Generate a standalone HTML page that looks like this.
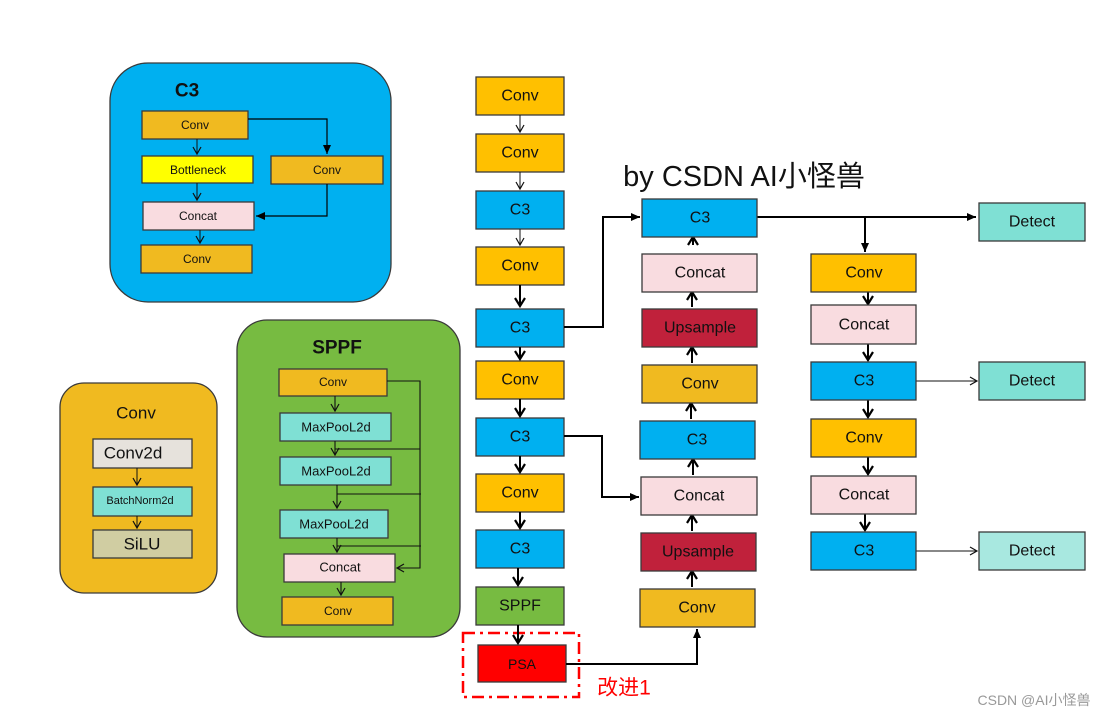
<!DOCTYPE html>
<html><head><meta charset="utf-8"><style>
body{margin:0;background:#fff}
svg{display:block}
text{font-family:"Liberation Sans","Noto Sans CJK SC",sans-serif;text-anchor:middle;dominant-baseline:central;fill:#111}
rect.b{stroke:#3a3a3a;stroke-width:1.3}
</style></head><body>
<svg width="1107" height="716" viewBox="0 0 1107 716" xmlns="http://www.w3.org/2000/svg">
<defs>
<marker id="o" markerWidth="10" markerHeight="10" refX="8" refY="5" orient="auto" markerUnits="userSpaceOnUse"><path d="M1,1 L8,5 L1,9" fill="none" stroke="#111" stroke-width="1.2"/></marker>
<marker id="f" markerWidth="10" markerHeight="10" refX="9" refY="5" orient="auto" markerUnits="userSpaceOnUse"><path d="M0,1 L9,5 L0,9 Z" fill="#000"/></marker>
<marker id="t" markerWidth="12" markerHeight="12" refX="9" refY="6" orient="auto" markerUnits="userSpaceOnUse"><path d="M1,1 L9,6 L1,11" fill="none" stroke="#000" stroke-width="2.2"/></marker>
</defs>

<!-- C3 module -->
<rect x="110" y="63" width="281" height="239" rx="38" fill="#00B0F0" stroke="#3a3a3a" stroke-width="1.3"/>
<text x="187" y="91" font-size="19" font-weight="bold">C3</text>
<rect class="b" x="142" y="111" width="106" height="28" fill="#F0BA20"/><text x="195" y="125" font-size="12">Conv</text>
<rect class="b" x="142" y="156" width="111" height="27" fill="#FFFF00"/><text x="198" y="170" font-size="12">Bottleneck</text>
<rect class="b" x="271" y="156" width="112" height="28" fill="#F0BA20"/><text x="327" y="170" font-size="12">Conv</text>
<rect class="b" x="143" y="202" width="111" height="28" fill="#F9DCE0"/><text x="198" y="216" font-size="12">Concat</text>
<rect class="b" x="141" y="245" width="111" height="28" fill="#F0BA20"/><text x="197" y="259" font-size="12">Conv</text>
<line x1="197" y1="139" x2="197" y2="154" stroke="#111" marker-end="url(#o)"/>
<line x1="197" y1="183" x2="197" y2="200" stroke="#111" marker-end="url(#o)"/>
<line x1="200" y1="230" x2="200" y2="243" stroke="#111" marker-end="url(#o)"/>
<polyline points="248,119 327,119 327,154" fill="none" stroke="#000" stroke-width="1.2" marker-end="url(#f)"/>
<polyline points="327,184 327,216 256,216" fill="none" stroke="#000" stroke-width="1.2" marker-end="url(#f)"/>

<!-- Conv module -->
<rect x="60" y="383" width="157" height="210" rx="24" fill="#F0BA20" stroke="#3a3a3a" stroke-width="1.3"/>
<text x="136" y="413" font-size="17">Conv</text>
<rect class="b" x="93" y="439" width="99" height="29" fill="#E6E2DC"/><text x="133" y="453" font-size="17">Conv2d</text>
<rect class="b" x="93" y="487" width="99" height="29" fill="#7FE0D4"/><text x="140" y="501" font-size="11">BatchNorm2d</text>
<rect class="b" x="93" y="530" width="99" height="28" fill="#D0CDA2"/><text x="142" y="544" font-size="17">SiLU</text>
<line x1="137" y1="468" x2="137" y2="485" stroke="#111" marker-end="url(#o)"/>
<line x1="137" y1="516" x2="137" y2="528" stroke="#111" marker-end="url(#o)"/>

<!-- SPPF module -->
<rect x="237" y="320" width="223" height="317" rx="30" fill="#77BB41" stroke="#3a3a3a" stroke-width="1.3"/>
<text x="337" y="348" font-size="19" font-weight="bold">SPPF</text>
<rect class="b" x="279" y="369" width="108" height="27" fill="#F0BA20"/><text x="333" y="382" font-size="12">Conv</text>
<rect class="b" x="280" y="413" width="111" height="28" fill="#7FE0D4"/><text x="336" y="427" font-size="13">MaxPooL2d</text>
<rect class="b" x="280" y="457" width="111" height="28" fill="#7FE0D4"/><text x="336" y="471" font-size="13">MaxPooL2d</text>
<rect class="b" x="280" y="510" width="108" height="28" fill="#7FE0D4"/><text x="334" y="524" font-size="13">MaxPooL2d</text>
<rect class="b" x="284" y="554" width="111" height="28" fill="#F9DCE0"/><text x="340" y="567" font-size="13">Concat</text>
<rect class="b" x="282" y="597" width="111" height="28" fill="#F0BA20"/><text x="338" y="611" font-size="12">Conv</text>
<g stroke="#111" stroke-width="1.1" fill="none">
<line x1="335" y1="396" x2="335" y2="411" marker-end="url(#o)"/>
<line x1="335" y1="441" x2="335" y2="455" marker-end="url(#o)"/>
<line x1="337" y1="485" x2="337" y2="508" marker-end="url(#o)"/>
<line x1="337" y1="538" x2="337" y2="552" marker-end="url(#o)"/>
<line x1="341" y1="582" x2="341" y2="595" marker-end="url(#o)"/>
<polyline points="387,381 420,381 420,568 397,568" marker-end="url(#o)"/>
<line x1="335" y1="449" x2="420" y2="449"/>
<line x1="337" y1="494" x2="421" y2="494"/>
<line x1="337" y1="546" x2="421" y2="546"/>
</g>

<!-- main column -->
<rect class="b" x="476" y="77" width="88" height="38" fill="#FFC000"/><text x="520" y="96" font-size="16">Conv</text>
<rect class="b" x="476" y="134" width="88" height="38" fill="#FFC000"/><text x="520" y="153" font-size="16">Conv</text>
<rect class="b" x="476" y="191" width="88" height="38" fill="#00B0F0"/><text x="520" y="210" font-size="16">C3</text>
<rect class="b" x="476" y="247" width="88" height="38" fill="#FFC000"/><text x="520" y="266" font-size="16">Conv</text>
<rect class="b" x="476" y="309" width="88" height="38" fill="#00B0F0"/><text x="520" y="328" font-size="16">C3</text>
<rect class="b" x="476" y="361" width="88" height="38" fill="#FFC000"/><text x="520" y="380" font-size="16">Conv</text>
<rect class="b" x="476" y="418" width="88" height="38" fill="#00B0F0"/><text x="520" y="437" font-size="16">C3</text>
<rect class="b" x="476" y="474" width="88" height="38" fill="#FFC000"/><text x="520" y="493" font-size="16">Conv</text>
<rect class="b" x="476" y="530" width="88" height="38" fill="#00B0F0"/><text x="520" y="549" font-size="16">C3</text>
<rect class="b" x="476" y="587" width="88" height="38" fill="#77BB41"/><text x="520" y="606" font-size="16">SPPF</text>
<rect class="b" x="478" y="645" width="88" height="37" fill="#FF0000"/><text x="522" y="664" font-size="14">PSA</text>
<rect x="463" y="633" width="116" height="64" fill="none" stroke="#FF0000" stroke-width="2.5" stroke-dasharray="12,5,3,5"/>
<text x="624" y="688" font-size="21" style="fill:#FF0000">改进1</text>
<g stroke="#111" fill="none">
<line x1="520" y1="115" x2="520" y2="132" marker-end="url(#o)"/>
<line x1="520" y1="172" x2="520" y2="189" marker-end="url(#o)"/>
<line x1="520" y1="229" x2="520" y2="245" marker-end="url(#o)"/>
</g>
<g stroke="#000" stroke-width="2" fill="none">
<line x1="520" y1="285" x2="520" y2="306" marker-end="url(#t)"/>
<line x1="520" y1="347" x2="520" y2="359" marker-end="url(#t)"/>
<line x1="520" y1="399" x2="520" y2="416" marker-end="url(#t)"/>
<line x1="520" y1="456" x2="520" y2="472" marker-end="url(#t)"/>
<line x1="520" y1="512" x2="520" y2="528" marker-end="url(#t)"/>
<line x1="518" y1="568" x2="518" y2="585" marker-end="url(#t)"/>
<line x1="518" y1="625" x2="518" y2="643" marker-end="url(#t)"/>
<line x1="693" y1="245" x2="693" y2="237" marker-end="url(#t)"/>
<line x1="692" y1="307" x2="692" y2="292" marker-end="url(#t)"/>
<line x1="692" y1="363" x2="692" y2="347" marker-end="url(#t)"/>
<line x1="691" y1="419" x2="691" y2="403" marker-end="url(#t)"/>
<line x1="693" y1="475" x2="693" y2="459" marker-end="url(#t)"/>
<line x1="692" y1="531" x2="692" y2="515" marker-end="url(#t)"/>
<line x1="692" y1="587" x2="692" y2="571" marker-end="url(#t)"/>
<line x1="868" y1="292" x2="868" y2="304" marker-end="url(#t)"/>
<line x1="868" y1="344" x2="868" y2="360" marker-end="url(#t)"/>
<line x1="868" y1="400" x2="868" y2="417" marker-end="url(#t)"/>
<line x1="868" y1="457" x2="868" y2="474" marker-end="url(#t)"/>
<line x1="865" y1="514" x2="865" y2="530" marker-end="url(#t)"/>
</g>
<g stroke="#000" stroke-width="2" fill="none">
<polyline points="564,327 603,327 603,217 640,217" marker-end="url(#f)"/>
<polyline points="564,436 602,436 602,497 639,497" marker-end="url(#f)"/>
<polyline points="566,664 697,664 697,629" marker-end="url(#f)"/>
<polyline points="757,217 976,217" marker-end="url(#f)"/>
<polyline points="865,217 865,252" marker-end="url(#f)"/>
</g>
<g stroke="#111" stroke-width="1.1" fill="none">
<line x1="916" y1="381" x2="977" y2="381" marker-end="url(#o)"/>
<line x1="916" y1="551" x2="977" y2="551" marker-end="url(#o)"/>
</g>

<!-- middle column -->
<text x="744" y="177" font-size="29" style="text-anchor:middle">by CSDN AI小怪兽</text>
<rect class="b" x="642" y="199" width="115" height="38" fill="#00B0F0"/><text x="700" y="218" font-size="16">C3</text>
<rect class="b" x="642" y="254" width="115" height="38" fill="#F9DCE0"/><text x="700" y="273" font-size="16">Concat</text>
<rect class="b" x="642" y="309" width="115" height="38" fill="#C0213B"/><text x="700" y="328" font-size="16">Upsample</text>
<rect class="b" x="642" y="365" width="115" height="38" fill="#F0BA20"/><text x="700" y="384" font-size="16">Conv</text>
<rect class="b" x="640" y="421" width="115" height="38" fill="#00B0F0"/><text x="697" y="440" font-size="16">C3</text>
<rect class="b" x="641" y="477" width="116" height="38" fill="#F9DCE0"/><text x="699" y="496" font-size="16">Concat</text>
<rect class="b" x="641" y="533" width="115" height="38" fill="#C0213B"/><text x="698" y="552" font-size="16">Upsample</text>
<rect class="b" x="640" y="589" width="115" height="38" fill="#F0BA20"/><text x="697" y="608" font-size="16">Conv</text>

<!-- right column -->
<rect class="b" x="811" y="254" width="105" height="38" fill="#FFC000"/><text x="864" y="273" font-size="16">Conv</text>
<rect class="b" x="811" y="305" width="105" height="39" fill="#F9DCE0"/><text x="864" y="325" font-size="16">Concat</text>
<rect class="b" x="811" y="362" width="105" height="38" fill="#00B0F0"/><text x="864" y="381" font-size="16">C3</text>
<rect class="b" x="811" y="419" width="105" height="38" fill="#FFC000"/><text x="864" y="438" font-size="16">Conv</text>
<rect class="b" x="811" y="476" width="105" height="38" fill="#F9DCE0"/><text x="864" y="495" font-size="16">Concat</text>
<rect class="b" x="811" y="532" width="105" height="38" fill="#00B0F0"/><text x="864" y="551" font-size="16">C3</text>

<rect class="b" x="979" y="203" width="106" height="38" fill="#7FE0D4"/><text x="1032" y="222" font-size="16">Detect</text>
<rect class="b" x="979" y="362" width="106" height="38" fill="#7FE0D4"/><text x="1032" y="381" font-size="16">Detect</text>
<rect class="b" x="979" y="532" width="106" height="38" fill="#A8E8E0"/><text x="1032" y="551" font-size="16">Detect</text>

<text x="1034" y="700" font-size="14" style="fill:#999">CSDN @AI小怪兽</text>
</svg>
</body></html>
